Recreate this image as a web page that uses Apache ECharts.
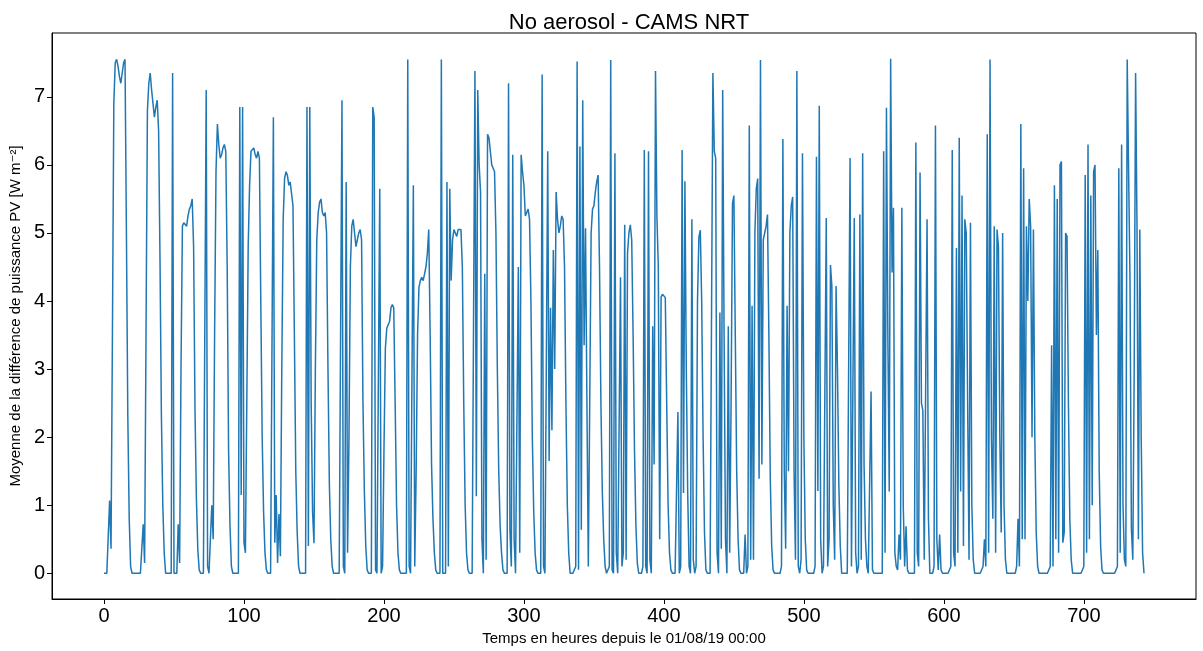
<!DOCTYPE html>
<html>
<head>
<meta charset="utf-8">
<script src="https://cdn.jsdelivr.net/npm/echarts@6/dist/echarts.min.js"></script>
<style>
  html, body { margin: 0; padding: 0; background: #fff; }
  #chart { width: 1203px; height: 651px; }
</style>
</head>
<body>
<div id="chart"></div>
<script>
// Hourly mean PV power difference, August 2019 (W m^-2), one row per day.
const week1 = [
  0,0,0,0,1.07,0.36,3.5,6.9,7.5,7.55,7.45,7.3,7.2,7.35,7.5,7.55,5.0,2.3,0.8,0.1,0,0,0,0,
  0,0,0,0,0.72,0.15,3.5,6.8,7.2,7.35,7.1,6.9,6.7,6.85,6.95,6.5,4.6,2.3,1.0,0.3,0,0,0,0,
  0,7.35,0,0,0,0.72,0.15,3.0,5.1,5.15,5.15,5.1,5.25,5.35,5.4,5.5,4.8,2.4,1.1,0.35,0.05,0,0,0,
  0,7.1,0.1,0,0,1.0,0.5,3.5,5.9,6.6,6.3,6.1,6.15,6.25,6.3,6.2,4.5,1.8,0.7,0.1,0,0,0,0,
  0,6.85,1.15,6.85,0.45,0.3,2.5,4.8,5.7,6.2,6.2,6.25,6.15,6.1,6.2,6.1,4.0,2.0,0.9,0.3,0.05,0,0,0,
  0,6.7,0.45,1.15,0.15,0.87,0.25,3.0,5.2,5.8,5.9,5.85,5.7,5.75,5.75,5.4,3.5,1.5,0.6,0.1,0,0,0,0,
  0,6.85,0.4,6.85,2.5,0.9,0.44,3.0,4.9,5.3,5.45,5.5,5.3,5.25,5.3,5.0,3.0,1.3,0.5,0.1,0,0,0,0
];
const week2 = [
  0,0,6.95,0.1,0,5.75,0.3,2.0,4.5,5.1,5.2,5.0,4.8,4.9,5.0,5.05,4.9,2.5,1.2,0.4,0.05,0,0,0,
  6.85,6.7,0.05,0,0,5.65,0,0.1,1.8,3.3,3.6,3.6,3.7,3.9,3.95,3.9,2.5,1.0,0.3,0.05,0,0,0,0,
  0,7.55,0.1,0,0,5.7,0.1,1.5,3.5,4.2,4.3,4.35,4.3,4.4,4.5,4.7,5.05,3.5,1.6,0.8,0.3,0.05,0,0,
  0,7.55,0,0,0,5.75,0.1,5.65,4.3,4.9,5.05,5.0,4.95,5.05,5.05,5.05,4.5,2.5,1.0,0.3,0.05,0,0,0,
  0,7.38,1.13,7.1,6.0,5.6,0.5,0,4.4,0.2,6.45,6.4,6.2,6.0,5.95,5.9,5.0,3.0,1.5,0.7,0.3,0.05,0,0,
  0,7.2,0.62,0.1,6.15,0.5,0,0,4.5,0.3,6.15,5.9,5.7,5.25,5.3,5.35,5.2,4.0,2.0,0.9,0.3,0.05,0,0,
  0,7.33,0.1,0,0,6.2,1.65,3.9,2.1,4.75,3.0,5.6,5.2,5.0,5.1,5.25,5.2,4.5,2.5,1.0,0.3,0,0,0
];
const week3 = [
  0,0.1,7.52,0.05,6.27,0.64,6.95,3.35,5.07,2.5,0.1,2.5,5.0,5.35,5.4,5.6,5.75,5.85,4.5,2.5,1.2,0.5,0.1,0,
  0,0.1,7.54,0.05,0,6.17,0.3,0,0,4.35,0.1,0.3,5.12,0.2,4.7,5.0,5.12,4.9,3.5,1.8,0.7,0.15,0,0,
  0,0.1,6.22,0.1,0,6.2,0.2,0,3.63,1.6,7.38,5.25,4.5,0.5,4.06,4.1,4.1,4.05,2.5,1.0,0.3,0.05,0,0,
  0,0,2.37,0,0.1,6.22,1.18,5.76,3.0,1.18,0.1,0,5.2,0.2,0,0.1,4.0,4.94,5.04,4.0,2.0,0.6,0.05,0,
  0,0,0,7.35,6.2,6.1,0.3,0,3.83,0.36,7.1,3.5,0.5,0,3.63,0.3,2.5,5.43,5.55,3.5,1.5,0.5,0.05,0,
  0,0,0.57,0,0.1,6.58,0.2,3.93,0.2,5.0,5.65,5.8,1.39,7.54,1.6,4.9,4.9,5.1,5.27,3.5,1.4,0.4,0.05,0,
  0,0,0,0,0.1,6.38,1.5,0.36,3.93,1.5,5.0,5.4,5.53,1.5,0.2,7.38,0.1,0,0.2,6.17,2.0,0.5,0.05,0
];
const week4 = [
  0,0,0,0,0.1,6.12,1.21,6.87,0.5,0,0.1,0.1,5.22,0.1,0.5,4.53,4.22,1.0,0.2,4.22,3.0,1.3,0.4,0,
  0,0,0,0,0,6.1,0.1,0.1,5.22,0.3,0,0.1,5.27,0.2,6.17,1.6,0.5,0.1,0,0,2.67,0.05,0,0,
  0,0,0,0,0,6.2,0.3,6.84,3.5,1.2,7.56,4.42,5.37,0.3,0.1,0.05,0.57,0.2,5.37,1.0,0.1,0.69,0.05,0,
  0,0,0,0,6.33,0.3,0.1,5.89,2.5,2.39,0.2,0.2,5.2,0.8,0,0,0,0.1,6.58,0.5,0.05,0.57,0.05,0,
  0,0,0,0,0,0.1,6.22,0.3,0.1,4.78,0.3,6.4,1.2,5.55,0.4,5.2,5.0,2.5,0.2,5.15,1.0,0.2,0,0,
  0,0,0,0,0.1,0.5,0.1,6.45,0.3,7.55,2.0,0.8,5.1,0.3,5.05,4.8,2.0,0.6,5.0,1.0,0.2,0,0,0,
  0,0,0,0,0.1,0.8,0.1,6.6,0.5,5.95,0.5,5.1,4.0,5.5,5.1,2.0,5.05,2.0,0.6,0.1,0,0,0,0
];
const lastDays = [
  0,0,0,0,0.1,3.35,0.1,5.7,0.5,5.5,0.3,6.0,6.05,0.45,0.6,5.0,4.95,2.5,0.8,0.2,0,0,0,0,
  0,0,0,0,0.1,5.85,0.3,6.3,0.5,5.55,1.0,5.9,6.0,3.5,4.75,1.5,0.4,0.05,0,0,0,0,0,0,
  0,0,0,0,0.1,5.95,0.3,6.3,1.0,0.2,0.1,7.55,5.9,4.3,0.65,0.2,3.0,7.35,5.1,0.5,5.05,2.0,0.3,0
];

const power = [...week1, ...week2, ...week3, ...week4, ...lastDays];
const hourTicks = [0, 100, 200, 300, 400, 500, 600, 700];
const valueTicks = [0, 1, 2, 3, 4, 5, 6, 7];

const titleText = 'No aerosol - CAMS NRT';
const xName = 'Temps en heures depuis le 01/08/19 00:00';
const yName = 'Moyenne de la différence de puissance PV [W m\u207B\u00B2]';

// x = hour index since the start of the month
const series = power.map((v, i) => [i, v]);

const chart = echarts.init(document.getElementById('chart'), null, { renderer: 'canvas' });
const font = 'Liberation Sans, DejaVu Sans, sans-serif';

const gridLeft = 52;
const gridRight = 7;
const plotCenter = gridLeft + (1203 - gridLeft - gridRight) / 2;

chart.setOption({
  animation: false,
  backgroundColor: '#ffffff',
  title: {
    text: titleText,
    left: plotCenter,
    textAlign: 'center',
    top: 7,
    textStyle: { fontFamily: font, fontSize: 22, fontWeight: 'normal', color: '#000' }
  },
  grid: {
    left: gridLeft, right: gridRight, top: 33, bottom: 52,
    show: true, borderColor: '#000', borderWidth: 1, backgroundColor: 'transparent'
  },
  xAxis: {
    type: 'value',
    min: -37.15,
    max: 780.15,
    name: xName,
    nameLocation: 'middle',
    nameGap: 31,
    nameTextStyle: { fontFamily: font, fontSize: 15, color: '#000' },
    axisLine: { show: true, onZero: false, lineStyle: { color: '#000', width: 1 } },
    axisTick: { show: true, length: 5, customValues: hourTicks, lineStyle: { color: '#000' } },
    axisLabel: { customValues: hourTicks, fontFamily: font, fontSize: 20, color: '#000', margin: 7 },
    splitLine: { show: false }
  },
  yAxis: {
    type: 'value',
    min: -0.378,
    max: 7.938,
    name: yName,
    nameLocation: 'middle',
    nameGap: 29,
    nameRotate: 90,
    nameTextStyle: { fontFamily: font, fontSize: 15, color: '#000' },
    axisLine: { show: true, onZero: false, lineStyle: { color: '#000', width: 1 } },
    axisTick: { show: true, length: 5, customValues: valueTicks, lineStyle: { color: '#000' } },
    axisLabel: { customValues: valueTicks, fontFamily: font, fontSize: 20, color: '#000', margin: 7 },
    splitLine: { show: false }
  },
  series: [{
    type: 'line',
    data: series,
    showSymbol: false,
    symbol: 'none',
    lineStyle: { color: '#1f77b4', width: 1.5 },
    clip: true
  }]
});
</script>
</body>
</html>
